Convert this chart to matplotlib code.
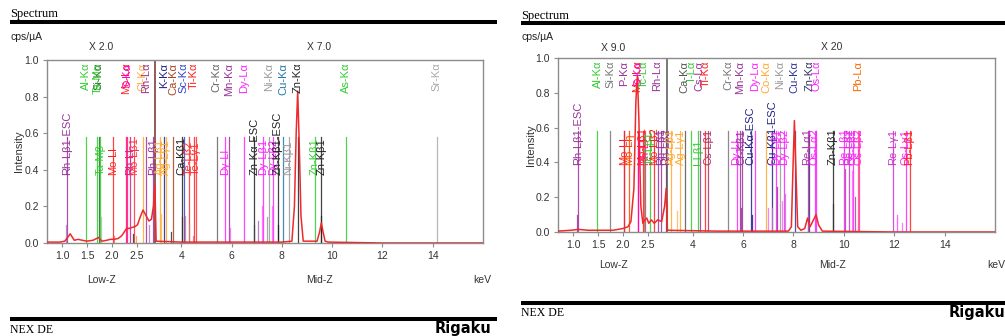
import matplotlib
matplotlib.use('Agg')
import matplotlib.pyplot as plt
import numpy as np
from matplotlib.lines import Line2D

plt.rcParams['font.family'] = ['Liberation Sans', 'DejaVu Sans']

W, H = 1005, 336

# ---------------- data ----------------
tick_kev = [1.0, 1.5, 2.0, 2.5, 4, 6, 8, 10, 12, 14]
tick_labels = ['1.0', '1.5', '2.0', '2.5', '4', '6', '8', '10', '12', '14']
y_ticks = [0.0, 0.2, 0.4, 0.6, 0.8, 1.0]

# left panel spectrum
L_spec_kev = [0.70, 0.95, 1.05, 1.16, 1.24, 1.32, 1.40, 1.50, 1.62, 1.73, 1.80, 1.90, 1.97,
              2.05, 2.13, 2.20, 2.25, 2.30, 2.36, 2.41, 2.47, 2.52, 2.57, 2.63, 2.69, 2.75,
              2.80, 2.84, 2.87, 3.00, 4.0, 6.0, 8.0, 8.40, 8.50, 8.57, 8.63, 8.69, 8.76,
              8.85, 9.40, 9.50, 9.57, 9.64, 9.72, 9.85, 12.0, 16.0]
L_spec_int = [0.005, 0.005, 0.01, 0.05, 0.015, 0.02, 0.015, 0.01, 0.015, 0.03, 0.01, 0.015, 0.02,
              0.02, 0.025, 0.04, 0.06, 0.08, 0.08, 0.085, 0.09, 0.10, 0.14, 0.18, 0.15, 0.12,
              0.13, 0.20, 0.32, 0.01, 0.005, 0.005, 0.005, 0.01, 0.20, 0.60, 0.83, 0.55, 0.15,
              0.01, 0.01, 0.06, 0.11, 0.06, 0.01, 0.005, 0.0, 0.0]

L_row1_labels = ['Al-Kα', 'Si-Kα', 'Ta-Mα', 'Mo-Lα', 'S-Kα', 'Cl-Kα', 'Rh-Lα', 'K-Kα', 'Ca-Kα',
                 'Sc-Kα', 'Ti-Kα', 'Cr-Kα', 'Mn-Kα', 'Dy-Lα', 'Ni-Kα', 'Cu-Kα', 'Zn-Kα',
                 'As-Kα', 'Sr-Kα']
L_row1_kev = [1.486, 1.740, 1.710, 2.293, 2.307, 2.622, 2.697, 3.313, 3.690,
              4.090, 4.510, 5.414, 5.898, 6.495, 7.478, 8.047, 8.638, 10.543, 14.165]
L_row1_col = ['#33cc33', '#226622', '#33cc33', '#ff2020', '#ff00cc', '#ffaa33', '#993399',
              '#222288', '#aa4422', '#3344cc', '#ff2020', '#666666', '#993399', '#ff22ff',
              '#999999', '#2277aa', '#222222', '#33cc33', '#aaaaaa']

L_row2_labels = ['Rh-Lβ1-ESC', 'Ta-Mβ', 'Mo-Ll', 'Rh-Ll', 'Mo-Lβ1', 'Rh-Lβ1', 'Ag-Lβ1',
                 'Ag-Lγ1', 'Ca-Kβ1', 'Te-Lβ2', 'Te-Lγ1', 'Dy-Ll', 'Zn-Kα-ESC', 'Dy-Lβ1',
                 'Dy-Lβ2', 'Zn-Kβ1-ESC', 'Ni-Kβ1', 'Zn-Kβ1', 'Zn-Kβ1']
L_row2_kev = [1.094, 1.766, 2.016, 2.377, 2.450, 2.834, 3.151, 3.400, 4.013, 4.302, 4.571,
              5.743, 6.898, 7.248, 7.636, 7.832, 8.265, 9.300, 9.572]
L_row2_col = ['#993399', '#33cc33', '#ff2020', '#cc2288', '#ff3344', '#993399', '#ffaa33',
              '#ffaa33', '#222222', '#ff3030', '#ff3030', '#ff22ff', '#222222', '#ff22ff',
              '#ff22ff', '#222222', '#999999', '#33cc33', '#222222']

L_stick_kev = [1.07, 1.78, 2.05, 2.42, 2.48, 2.75, 3.19, 3.59, 4.01, 4.15, 4.30, 4.46, 5.95,
               6.90, 7.05, 7.20, 7.40, 7.60, 7.83, 9.57]
L_stick_h = [0.10, 0.14, 0.04, 0.05, 0.04, 0.10, 0.16, 0.06, 0.14, 0.15, 0.11, 0.04, 0.08,
             0.10, 0.12, 0.20, 0.14, 0.20, 0.10, 0.15]
L_stick_col = ['#bb77cc', '#99cc99', '#ff6060', '#333333', '#ff9933', '#bb77cc', '#ffbb55',
               '#333333', '#333333', '#e07090', '#c08070', '#e07090', '#ff66ff', '#444444',
               '#aa66cc', '#ff66ff', '#999999', '#ff66ff', '#222222', '#222222']

# right panel spectrum
R_spec_kev = [0.68, 0.95, 1.10, 1.30, 1.50, 1.80, 2.00, 2.10, 2.16, 2.22, 2.26, 2.29, 2.32,
              2.36, 2.40, 2.44, 2.48, 2.52, 2.57, 2.63, 2.70, 2.78, 2.84, 2.87, 3.00, 5.0,
              7.80, 7.92, 7.98, 8.04, 8.10, 8.17, 8.30, 8.45, 8.56, 8.66, 8.80, 8.90, 9.00,
              9.15, 12.0, 16.0]
R_spec_int = [0.005, 0.01, 0.015, 0.01, 0.01, 0.01, 0.02, 0.03, 0.06, 0.25, 0.75, 0.90, 0.65,
              0.15, 0.05, 0.07, 0.08, 0.05, 0.07, 0.05, 0.07, 0.06, 0.15, 0.25, 0.01, 0.005,
              0.005, 0.03, 0.35, 0.64, 0.35, 0.03, 0.01, 0.02, 0.08, 0.03, 0.07, 0.10, 0.04,
              0.005, 0.0, 0.0]

R_row1_labels = ['Al-Kα', 'Si-Kα', 'P-Kα', 'Mo-Lα', 'S-Kα', 'Tc-Lα', 'Rh-Lα', 'Ca-Kα',
                 'I-Lα', 'Cs-Lα', 'Ti-Kα', 'Cr-Kα', 'Mn-Kα', 'Dy-Lα', 'Co-Kα', 'Ni-Kα',
                 'Cu-Kα', 'Zn-Kα', 'Os-Lα', 'Pb-Lα']
R_row1_kev = [1.486, 1.740, 2.013, 2.293, 2.307, 2.424, 2.697, 3.690, 3.937, 4.287, 4.510,
              5.414, 5.898, 6.495, 6.930, 7.478, 8.047, 8.638, 8.911, 10.551]
R_row1_col = ['#33cc33', '#777777', '#993399', '#ff2020', '#ff00cc', '#33cc33', '#993399',
              '#555555', '#33cc33', '#993399', '#ff2020', '#777777', '#993399', '#ff22ff',
              '#ffaa33', '#999999', '#333399', '#333366', '#ff22ff', '#ff6600']

R_row2_labels = ['Rh-Lβ1-ESC', 'Mo-Ll', 'Mo-Lη', 'Mo-Lβ1', 'Rh-Ll', 'Tc-Lβ1', 'Mo-Lβ2',
                 'Rh-Lβ1', 'Rh-Lβ2', 'Ag-Lβ1', 'Ag-Lγ1', 'I-Lβ1', 'Cs-Lβ1', 'Dy-Ll',
                 'Cr-Kβ1', 'Cu-Kα-ESC', 'Cu-Kβ1-ESC', 'Dy-Lβ1', 'Dy-Lβ2', 'Re-Lα1', 'Os-Lα2',
                 'Zn-Kβ1', 'Re-Lβ1', 'Re-Lβ2', 'Os-Lβ1', 'Os-Lβ2', 'Re-Lγ1', 'Os-Lγ1',
                 'Pb-Lβ1']
R_row2_kev = [1.094, 2.016, 2.120, 2.395, 2.440, 2.538, 2.620, 2.760, 2.860, 3.151, 3.520,
              4.221, 4.620, 5.743, 5.947, 6.307, 7.165, 7.300, 7.636, 8.560, 8.840,
              9.572, 10.010, 10.200, 10.355, 10.600, 11.950, 12.450, 12.610]
R_row2_col = ['#993399', '#ff2020', '#ff4400', '#ff2020', '#ff2288', '#33cc33', '#ff2020',
              '#993399', '#993399', '#ffaa33', '#ffaa33', '#33cc33', '#aa3366', '#ff22ff',
              '#993399', '#222288', '#222288', '#ff22ff', '#ff22ff', '#aa33aa', '#ff22ff',
              '#222222', '#ff22ff', '#cc33cc', '#ff22ff', '#ff22ff', '#cc33cc', '#ff22ff',
              '#ff2020']

R_stick_kev = [1.08, 3.00, 3.37, 5.94, 6.34, 6.98, 7.17, 7.33, 7.53, 7.65, 8.56, 9.56,
               10.03, 10.31, 10.43, 12.10, 12.29]
R_stick_h = [0.10, 0.17, 0.12, 0.14, 0.10, 0.14, 0.14, 0.26, 0.18, 0.22, 0.10, 0.16,
             0.36, 0.35, 0.20, 0.10, 0.05]
R_stick_col = ['#993399', '#ffbb55', '#ffbb55', '#993399', '#222288', '#ff66ff', '#bb77cc',
               '#993399', '#ff66ff', '#bb77cc', '#cc44cc', '#333333', '#aa44aa', '#ff66ff',
               '#aa44aa', '#ff44ff', '#ff66ff']

# ---------------- broken energy scale ----------------
B1, B2, R = 2.875, 2.97, 0.508
UB2 = B1 + (B2 - B1) * 0.05


def fwd(k):
    k = np.asarray(k, float)
    return np.where(k <= B1, k,
                    np.where(k <= B2, B1 + (k - B1) * 0.05, UB2 + (k - B2) * R))


def inv(u):
    u = np.asarray(u, float)
    return np.where(u <= B1, u,
                    np.where(u <= UB2, B1 + (u - B1) / 0.05, B2 + (u - UB2) / R))


fig = plt.figure(figsize=(W / 100, H / 100), dpi=100)


def fx(px):
    return px / W


def fy(py):
    return 1 - py / H


def panel(ax, spec_k, spec_i, r1, r2, sticks, row2_base, brk_col):
    ax.set_xscale('function', functions=(fwd, inv))
    ax.set_xlim(0.69, 16.0)
    ax.set_ylim(0, 1.0)
    # marker lines
    for labs, kev, cols in (r1, r2):
        for k, c in zip(kev, cols):
            ax.plot([k, k], [0, 0.58], color=c, lw=0.9, alpha=0.85, zorder=1)
    for k, h, c in zip(*sticks):
        ax.plot([k, k], [0, h], color=c, lw=0.9, alpha=0.85, zorder=1)
    ax.axvline(2.93, color=brk_col, lw=1.1, zorder=2)
    ax.plot(spec_k, spec_i, color='#ee2a2a', lw=1.1, zorder=3)
    for lab, k, c in zip(*r1):
        ax.text(k, 0.985, lab, rotation=90, ha='center', va='top', color=c,
                fontsize=8, zorder=4)
    for lab, k, c in zip(*r2):
        ax.text(k, row2_base, lab, rotation=90, ha='center', va='bottom', color=c,
                fontsize=8, zorder=4)
    ax.set_xticks(tick_kev)
    ax.set_xticklabels(tick_labels)
    ax.set_yticks(y_ticks)
    ax.set_yticklabels(['%.1f' % v for v in y_ticks])
    ax.minorticks_off()
    for s in ax.spines.values():
        s.set_color('#8c8c8c')
        s.set_linewidth(1.0)
    ax.tick_params(direction='out', length=3, width=0.8, color='#8c8c8c',
                   labelsize=7.5, labelcolor='#333333', pad=3)


axL = fig.add_axes([fx(47), fy(243), 436 / W, 183 / H])
panel(axL, L_spec_kev, L_spec_int,
      (L_row1_labels, L_row1_kev, L_row1_col),
      (L_row2_labels, L_row2_kev, L_row2_col),
      (L_stick_kev, L_stick_h, L_stick_col), 0.37, '#7b2b2b')

axR = fig.add_axes([fx(558), fy(232), 437 / W, 174 / H])
panel(axR, R_spec_kev, R_spec_int,
      (R_row1_labels, R_row1_kev, R_row1_col),
      (R_row2_labels, R_row2_kev, R_row2_col),
      (R_stick_kev, R_stick_h, R_stick_col), 0.385, '#555555')

# ---------------- page decorations ----------------
def hline(x0, x1, y, lw=2.9):
    fig.add_artist(Line2D([fx(x0), fx(x1)], [fy(y), fy(y)], transform=fig.transFigure,
                          color='black', lw=lw, solid_capstyle='butt'))


serif = ['Liberation Serif', 'DejaVu Serif']
for (x0, x1, yh, yline, ycps, yb_line, yb_text, ylab, xs, rig_x, ylbl, ycen) in [
        (10, 497, 14, 22, 37, 319, 330, 280, (101, 319.5, 482), 491, 19, 151),
        (521, 1005, 16, 23, 37, 303, 313, 265, (613, 832, 996), 1005, 531, 145)]:
    fig.text(fx(x0), fy(yh), 'Spectrum', family=serif, fontsize=9, va='center', ha='left')
    hline(x0, x1, yline)
    fig.text(fx(x0 + 0.5), fy(ycps), 'cps/µA', fontsize=7.5, va='center', ha='left',
             color='#222222')
    hline(x0, x1, yb_line)
    fig.text(fx(x0), fy(yb_text), 'NEX DE', family=serif, fontsize=8.5, va='center',
             ha='left')
    fig.text(fx(rig_x), fy(yb_text - 1), 'Rigaku', family='DejaVu Sans',
             fontweight='heavy', fontsize=10.5, va='center', ha='right')
    fig.text(fx(xs[0]), fy(ylab), 'Low-Z', fontsize=7.5, ha='center', va='center',
             color='#333333')
    fig.text(fx(xs[1]), fy(ylab), 'Mid-Z', fontsize=7.5, ha='center', va='center',
             color='#333333')
    fig.text(fx(xs[2]), fy(ylab), 'keV', fontsize=7.5, ha='center', va='center',
             color='#333333')
    fig.text(fx(ylbl), fy(ycen), 'Intensity', fontsize=8, rotation=90, ha='center',
             va='center', color='#333333')

for x, y, t in [(101, 47, 'X 2.0'), (319, 47, 'X 7.0'), (613, 48, 'X 9.0'), (832, 47, 'X 20')]:
    fig.text(fx(x), fy(y), t, fontsize=7.5, ha='center', va='center', color='#333333')

fig.savefig('out.png', dpi=100)
